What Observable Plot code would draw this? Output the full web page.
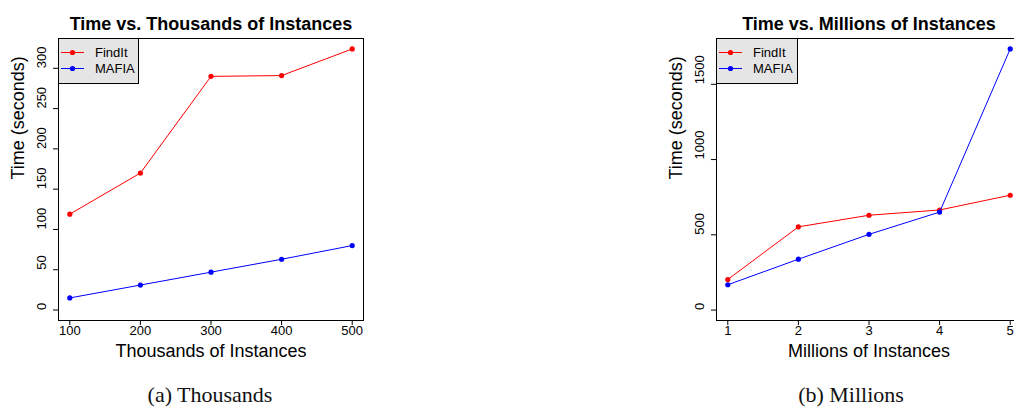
<!DOCTYPE html>
<html>
<head>
<meta charset="utf-8">
<script src="https://cdn.jsdelivr.net/npm/d3@7"></script>
<script src="https://cdn.jsdelivr.net/npm/@observablehq/plot@0.6"></script>
<style>
  html, body { margin:0; padding:0; background:#fff; overflow:hidden; width:1014px; height:414px; }
  #root { position:relative; width:1014px; height:414px; overflow:hidden; font-family:"Liberation Sans", Arial, sans-serif; }
  .panel { position:absolute; top:0; }
  .caption { position:absolute; width:240px; text-align:center; font-family:"Liberation Serif", "DejaVu Serif", serif; font-size:22px; line-height:26px; color:#111; }
  .legend { position:absolute; }
</style>
</head>
<body>
<div id="root"></div>
<script>
// ---- data ----
const thousands = [100, 200, 300, 400, 500];
const findItThousands = [119, 170, 290, 291, 324];
const mafiaThousands = [15, 31, 47, 63, 80];
const thousandsYTicks = [0, 50, 100, 150, 200, 250, 300];

const millions = [1, 2, 3, 4, 5];
const findItMillions = [203, 553, 630, 665, 763];
const mafiaMillions = [168, 338, 503, 651, 1735];
const millionsYTicks = [0, 500, 1000, 1500];

const seriesNames = ["FindIt", "MAFIA"];
const seriesColors = ["#ff0000", "#0000ff"];

function panel({xs, a, b, xTicks, yTicks, xDomain, yDomain, title, xLabel}) {
  const dA = xs.map((x, i) => ({x, y: a[i]}));
  const dB = xs.map((x, i) => ({x, y: b[i]}));
  return Plot.plot({
    width: 380, height: 370,
    marginLeft: 58, marginRight: 17, marginTop: 38, marginBottom: 50,
    style: {fontFamily: "'Liberation Sans', Arial, sans-serif", background: "transparent", overflow: "visible", color: "black"},
    x: {domain: xDomain},
    y: {domain: yDomain},
    marks: [
      Plot.frame({stroke: "black", strokeWidth: 1}),
      Plot.axisX({ticks: xTicks, tickSize: 5, tickFormat: () => "", label: null}),
      Plot.axisY({ticks: yTicks, tickSize: 5, tickFormat: () => "", label: null}),
      Plot.text(xTicks, {x: d => d, frameAnchor: "bottom", dy: 14, fontSize: 13, text: d => String(d), fill: "black"}),
      Plot.text(yTicks, {y: d => d, frameAnchor: "left", dx: -17, rotate: -90, fontSize: 13, text: d => String(d), fill: "black"}),
      Plot.text([title], {frameAnchor: "top", dy: -21, fontWeight: "bold", fontSize: 18, fill: "black"}),
      Plot.text([xLabel], {frameAnchor: "bottom", dy: 36, fontSize: 18, fill: "black"}),
      Plot.text(["Time (seconds)"], {frameAnchor: "left", dx: -40, rotate: -90, fontSize: 18, fill: "black"}),
      Plot.line(dA, {x: "x", y: "y", stroke: seriesColors[0], strokeWidth: 1}),
      Plot.dot(dA, {x: "x", y: "y", fill: seriesColors[0], r: 2.6}),
      Plot.line(dB, {x: "x", y: "y", stroke: seriesColors[1], strokeWidth: 1}),
      Plot.dot(dB, {x: "x", y: "y", fill: seriesColors[1], r: 2.6})
    ]
  });
}

function legend(left, top, w) {
  const svg = d3.create("svg").attr("class", "legend")
    .attr("width", w + 2).attr("height", 47)
    .style("left", (left - 0.5) + "px").style("top", (top - 0.5) + "px");
  svg.append("rect").attr("x", 0.5).attr("y", 0.5).attr("width", w).attr("height", 45)
    .attr("fill", "#e5e5e5").attr("stroke", "black").attr("stroke-width", 1);
  seriesNames.forEach((name, i) => {
    const y = 14.5 + i * 16;
    svg.append("line").attr("x1", 3).attr("x2", 26).attr("y1", y).attr("y2", y)
      .attr("stroke", seriesColors[i]).attr("stroke-width", 1);
    svg.append("circle").attr("cx", 14.5).attr("cy", y).attr("r", 2.6).attr("fill", seriesColors[i]);
    svg.append("text").attr("x", 37).attr("y", y).attr("dy", "0.35em")
      .attr("font-size", 13).attr("font-family", "'Liberation Sans', Arial, sans-serif")
      .attr("fill", "black").text(name);
  });
  return svg.node();
}

const root = document.getElementById("root");

const left = panel({
  xs: thousands, a: findItThousands, b: mafiaThousands,
  xTicks: thousands, yTicks: thousandsYTicks,
  xDomain: [84, 516], yDomain: [-13, 337],
  title: "Time vs. Thousands of Instances", xLabel: "Thousands of Instances"
});
left.classList.add("panel");
left.style.position = "absolute";
left.style.left = "0px";
root.appendChild(left);

const right = panel({
  xs: millions, a: findItMillions, b: mafiaMillions,
  xTicks: millions, yTicks: millionsYTicks,
  xDomain: [0.84, 5.16], yDomain: [-69.4, 1804.4],
  title: "Time vs. Millions of Instances", xLabel: "Millions of Instances"
});
right.classList.add("panel");
right.style.position = "absolute";
right.style.left = "658px";
root.appendChild(right);

root.appendChild(legend(58, 38, 80));
root.appendChild(legend(716, 38, 81));

const capA = document.createElement("div");
capA.className = "caption"; capA.textContent = "(a) Thousands";
capA.style.left = (210 - 120) + "px"; capA.style.top = "382px";
root.appendChild(capA);

const capB = document.createElement("div");
capB.className = "caption"; capB.textContent = "(b) Millions";
capB.style.left = (851 - 120) + "px"; capB.style.top = "382px";
root.appendChild(capB);
</script>
</body>
</html>
